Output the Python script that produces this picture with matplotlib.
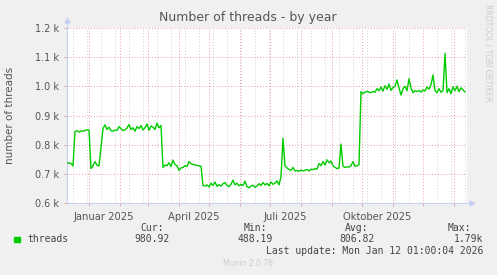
import numpy as np
import pandas as pd
import matplotlib
matplotlib.use('Agg')
from matplotlib import pyplot as plt
import matplotlib.dates as mdates
from matplotlib.ticker import NullFormatter, FixedLocator
from matplotlib.transforms import blended_transform_factory

# samples every 2 days
start = pd.Timestamp('2024-12-10')
step_days = 2
threads = [
    738, 737, 736, 727,
    845, 848, 843, 847, 846, 849, 851, 850,
    718, 728, 742, 730, 727,
    790, 855,
    868, 852, 860, 848, 846, 850, 849, 862, 855, 848, 851, 857, 869, 852, 858,
    846, 862, 855, 866, 850, 858, 871, 849, 864, 860, 852, 874, 858, 866,
    722, 730, 728, 738, 725, 747, 732, 728, 712, 720, 722, 728, 725, 742, 735,
    732, 730, 729, 727, 726,
    660, 658, 662, 655, 668, 660, 672, 657, 663, 658, 666, 670, 660, 656, 664,
    678, 662, 668, 659, 664, 660, 675, 656, 652, 658, 661, 654, 658, 666, 660,
    670, 662, 667, 659, 672, 664, 668, 676, 662, 690,
    822, 728,
    720, 715, 712, 722, 710, 712, 708, 713, 710, 712, 715, 710, 716, 714, 718, 716,
    735, 728, 742, 730, 748, 738, 744, 728, 722, 718, 720, 802, 726, 722, 724,
    723, 728, 742, 726, 728, 731,
    982, 975, 980, 983, 980, 978, 982, 980,
    992, 985, 998, 984, 1002, 990, 1008, 986, 996, 1000, 1022, 995,
    970, 992, 1000, 985, 1026, 995, 978, 985,
    982, 986, 980, 988, 984, 998, 990, 1005, 1039, 985, 978, 992, 980, 985, 1113,
    978, 992, 975, 998, 985, 1000, 982, 995, 988, 981,
]
dates = start + pd.to_timedelta(np.arange(len(threads)) * step_days, unit='D')

y_ticks = [600, 700, 800, 900, 1000, 1100, 1200]
y_labels = ['0.6 k', '0.7 k', '0.8 k', '0.9 k', '1.0 k', '1.1 k', '1.2 k']
x_label_dates = ['2025-01-16', '2025-04-16', '2025-07-16', '2025-10-16']
x_label_text = ['Januar 2025', 'April 2025', 'Juli 2025', 'Oktober 2025']

legend_name = 'threads'
stat_names = ['Cur:', 'Min:', 'Avg:', 'Max:']
stat_values = ['980.92', '488.19', '806.82', '1.79k']

W, H = 497, 275
BG = '#f0f0f0'
TXT = '#555555'
GREEN = '#00cc00'
MGRID = '#eaa0a0'
MINGRID = '#d0d0d0'
AXIS = '#c8cff5'


def px(x, y):
    return x / W, 1 - y / H


fig = plt.figure(figsize=(W / 100, H / 100), dpi=100, facecolor=BG)
l, r, t, b = 67, 467, 28, 203
ax = fig.add_axes([l / W, 1 - b / H, (r - l) / W, (b - t) / H])
ax.set_facecolor('white')

ax.plot(dates, threads, color=GREEN, lw=1.0, zorder=3)

ax.set_xlim(pd.Timestamp('2024-12-10'), pd.Timestamp('2026-01-14'))
ax.set_ylim(600, 1200)

ax.xaxis.set_major_locator(mdates.MonthLocator())
ax.xaxis.set_major_formatter(NullFormatter())
ax.xaxis.set_minor_locator(mdates.WeekdayLocator(byweekday=mdates.MO, interval=2))
ax.yaxis.set_major_locator(FixedLocator(y_ticks))
ax.set_yticklabels(y_labels)

ax.grid(which='minor', axis='x', color=MINGRID, linestyle=(0, (1, 2)), lw=0.7)
ax.grid(which='major', axis='both', color=MGRID, linestyle=(0, (1, 2)), lw=0.7)
ax.set_axisbelow(True)

ax.tick_params(axis='y', which='major', length=2, width=0.7, color=MGRID,
               labelsize=7, labelcolor=TXT, pad=4)
ax.tick_params(axis='x', which='major', length=2, width=0.7, color=MGRID)
ax.tick_params(axis='x', which='minor', length=0)

for s in ['top', 'right']:
    ax.spines[s].set_visible(False)
for s in ['left', 'bottom']:
    ax.spines[s].set_color(AXIS)
    ax.spines[s].set_linewidth(0.8)

# axis arrows
ax.plot([0, 0], [1, 1.04], color=AXIS, lw=0.8, transform=ax.transAxes, clip_on=False)
ax.plot([0], [1.045], marker='^', ms=3.5, color=AXIS, transform=ax.transAxes, clip_on=False)
ax.plot([1, 1.01], [0, 0], color=AXIS, lw=0.8, transform=ax.transAxes, clip_on=False)
ax.plot([1.012], [0], marker='>', ms=3.5, color=AXIS, transform=ax.transAxes, clip_on=False)

trans = blended_transform_factory(ax.transData, ax.transAxes)
for d, txt in zip(x_label_dates, x_label_text):
    ax.text(mdates.date2num(pd.Timestamp(d)), -0.05, txt, transform=trans,
            ha='center', va='top', fontsize=7.2, color=TXT)

fig.text(*px(248, 18), 'Number of threads - by year', ha='center', va='center',
         fontsize=9, color=TXT)
fig.text(*px(10, 115), 'number of threads', ha='center', va='center',
         rotation=90, fontsize=7.5, color=TXT)
fig.text(*px(488, 53), 'RRDTOOL / TOBI OETIKER', ha='center', va='center',
         rotation=270, fontsize=5.5, color='#cccccc')

mono = 'DejaVu Sans Mono'
fig.patches.append(plt.Rectangle(px(14, 242), 6 / W, 5.5 / H, color=GREEN,
                                 transform=fig.transFigure, figure=fig))
fig.text(*px(27, 239), legend_name, ha='left', va='center', fontsize=7,
         family=mono, color='#444444')
head_x = [152, 255, 357, 459]
val_x = [170, 273, 375, 483]
for hx, vx, name, val in zip(head_x, val_x, stat_names, stat_values):
    fig.text(*px(hx, 228), name, ha='center', va='center', fontsize=7,
             family=mono, color='#444444')
    fig.text(*px(vx, 239), val, ha='right', va='center', fontsize=7,
             family=mono, color='#444444')
fig.text(*px(483, 251), 'Last update: Mon Jan 12 01:00:04 2026', ha='right',
         va='center', fontsize=7, family=mono, color='#444444')
fig.text(*px(248, 264), 'Munin 2.0.76', ha='center', va='center', fontsize=5.5,
         color='#cccccc')

fig.savefig('out.png', dpi=100, facecolor=BG)
